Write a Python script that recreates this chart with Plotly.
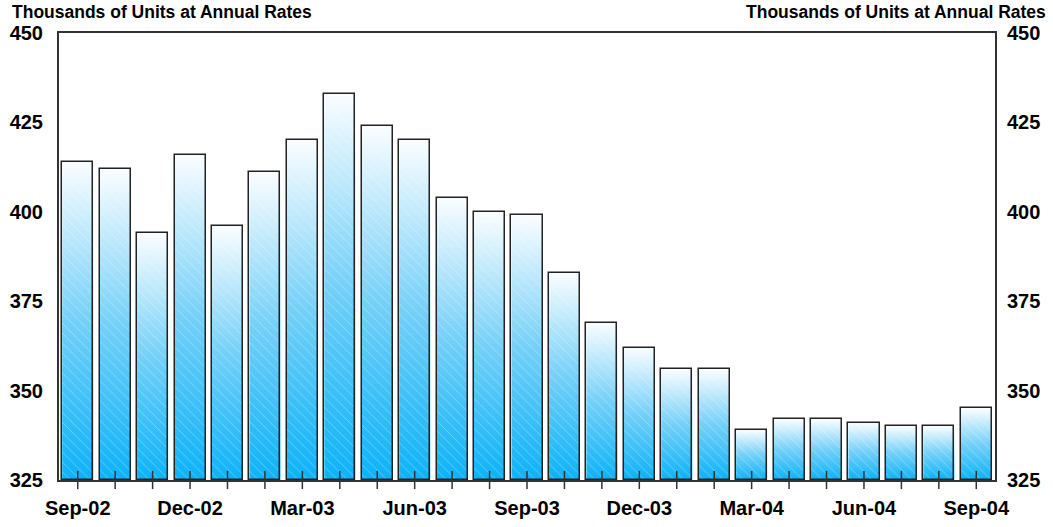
import plotly.graph_objects as go

# Monthly housing data (thousands of units, annual rates)
months = ["Sep-02", "Oct-02", "Nov-02", "Dec-02", "Jan-03", "Feb-03", "Mar-03",
          "Apr-03", "May-03", "Jun-03", "Jul-03", "Aug-03", "Sep-03", "Oct-03",
          "Nov-03", "Dec-03", "Jan-04", "Feb-04", "Mar-04", "Apr-04", "May-04",
          "Jun-04", "Jul-04", "Aug-04", "Sep-04"]
values = [414, 412, 394, 416, 396, 411, 420, 433, 424, 420, 404, 400, 399, 383,
          369, 362, 356, 356, 339, 342, 342, 341, 340, 340, 345]
y_ticks = [325, 350, 375, 400, 425, 450]

Y_MIN, Y_MAX = 325, 450
BAR_W = 0.83
FONT = "Arial, Liberation Sans, sans-serif"
AXIS_COLOR = "#333333"

positions = list(range(len(months)))
tick_text = [m if i % 3 == 0 else "" for i, m in enumerate(months)]

fig = go.Figure()

# Vertical white-to-blue gradient body for each bar
for i, v in zip(positions, values):
    x0, x1 = i - BAR_W / 2, i + BAR_W / 2
    fig.add_trace(go.Scatter(
        x=[x0, x1, x1, x0, x0],
        y=[Y_MIN, Y_MIN, v, v, Y_MIN],
        mode="none",
        fill="toself",
        fillgradient=dict(type="vertical",
                          colorscale=[[0, "#0cb2f8"], [0.5, "#74d0f8"], [1, "#fafdff"]]),
        hoverinfo="skip",
        showlegend=False,
        xaxis="x", yaxis="y",
    ))

# Bars: outlines plus faint diagonal hatching
fig.add_trace(go.Bar(
    x=positions,
    y=[v - Y_MIN for v in values],
    base=Y_MIN,
    width=BAR_W,
    marker=dict(
        color="rgba(0,0,0,0)",
        line=dict(color="#222222", width=1.5),
        pattern=dict(shape="\\", fgcolor="white", bgcolor="rgba(0,0,0,0)",
                     fgopacity=0.35, size=7, solidity=0.12),
    ),
    customdata=values,
    hovertemplate="%{x}: %{customdata}<extra></extra>",
    showlegend=False,
    xaxis="x2", yaxis="y2",
))

# Category tick marks straddling the baseline
fig.add_trace(go.Scatter(
    x=positions,
    y=[Y_MIN] * len(positions),
    mode="markers",
    marker=dict(symbol="line-ns", size=13, line=dict(color=AXIS_COLOR, width=1.5)),
    cliponaxis=False,
    hoverinfo="skip",
    showlegend=False,
    xaxis="x2", yaxis="y2",
))

x_common = dict(range=[-0.5, len(months) - 0.5], tickvals=positions, ticks="",
                showgrid=False, zeroline=False, fixedrange=True, automargin=False)
y_common = dict(range=[Y_MIN, Y_MAX], tickvals=y_ticks, ticks="",
                showgrid=False, zeroline=False, automargin=False,
                tickfont=dict(family=FONT, size=20, color="black", weight="bold"))

fig.update_layout(
    width=1053, height=527,
    margin=dict(l=59, r=58, t=33, b=47),
    paper_bgcolor="white", plot_bgcolor="white",
    bargap=0,
    xaxis=dict(**x_common, showticklabels=False,
               showline=True, linecolor=AXIS_COLOR, linewidth=2, mirror=True),
    xaxis2=dict(**x_common, ticktext=tick_text, ticklabelstandoff=14,
                overlaying="x", side="bottom", anchor="y2", showline=False,
                tickfont=dict(family=FONT, size=20, color="black", weight="bold")),
    yaxis=dict(**y_common, side="left", showline=True, linecolor=AXIS_COLOR,
               linewidth=2, ticklabelstandoff=10),
    yaxis2=dict(**y_common, side="right", overlaying="y", anchor="x2",
                showline=True, linecolor=AXIS_COLOR, linewidth=2,
                ticklabelstandoff=6),
    annotations=[
        dict(text="<b>Thousands of Units at Annual Rates</b>", xref="paper", yref="paper",
             x=-49 / 936, y=1, yshift=21, xanchor="left", yanchor="middle",
             showarrow=False, font=dict(family=FONT, size=17.5, color="black")),
        dict(text="<b>Thousands of Units at Annual Rates</b>", xref="paper", yref="paper",
             x=1 + 53 / 936, y=1, yshift=21, xanchor="right", yanchor="middle",
             showarrow=False, font=dict(family=FONT, size=17.5, color="black")),
    ],
)

fig.write_html("out.html")
